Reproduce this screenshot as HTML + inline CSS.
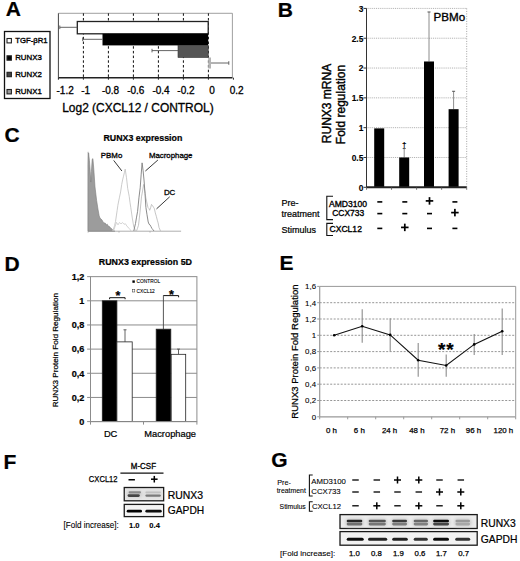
<!DOCTYPE html>
<html><head><meta charset="utf-8"><style>
html,body{margin:0;padding:0;background:#fff;width:520px;height:561px;overflow:hidden}
svg{display:block;font-family:"Liberation Sans", sans-serif}
text{stroke:#000;stroke-width:0.22px}
.nb{stroke:none}
</style></head><body>
<svg width="520" height="561" viewBox="0 0 520 561">
<defs><filter id="b1" x="-20%" y="-100%" width="140%" height="300%"><feGaussianBlur stdDeviation="0.7"/></filter><filter id="b2" x="-20%" y="-100%" width="140%" height="300%"><feGaussianBlur stdDeviation="0.45"/></filter><filter id="b3" x="-20%" y="-100%" width="140%" height="300%"><feGaussianBlur stdDeviation="1.5"/></filter></defs>
<rect width="520" height="561" fill="#fff"/>
<text x="5.8" y="16.4" font-size="21" font-weight="bold" text-anchor="start" fill="#000" >A</text>
<text x="277.8" y="17.2" font-size="21" font-weight="bold" text-anchor="start" fill="#000" >B</text>
<text x="4.4" y="142.4" font-size="21" font-weight="bold" text-anchor="start" fill="#000" >C</text>
<text x="4.4" y="270.7" font-size="21" font-weight="bold" text-anchor="start" fill="#000" >D</text>
<text x="279.4" y="269.7" font-size="21" font-weight="bold" text-anchor="start" fill="#000" >E</text>
<text x="3.4" y="468.9" font-size="21" font-weight="bold" text-anchor="start" fill="#000" >F</text>
<text x="271.2" y="466.6" font-size="21" font-weight="bold" text-anchor="start" fill="#000" >G</text>
<line x1="58.4" y1="13.3" x2="232.4" y2="13.3" stroke="#888" stroke-width="0.8" />
<line x1="232.4" y1="13.3" x2="232.4" y2="77.7" stroke="#888" stroke-width="0.8" />
<line x1="58.4" y1="13.3" x2="58.4" y2="77.7" stroke="#444" stroke-width="1" />
<line x1="83.39999999999999" y1="13.3" x2="83.39999999999999" y2="77.7" stroke="#111" stroke-width="1" stroke-dasharray="2.5 2.2"/>
<line x1="108.39999999999998" y1="13.3" x2="108.39999999999998" y2="77.7" stroke="#111" stroke-width="1" stroke-dasharray="2.5 2.2"/>
<line x1="133.4" y1="13.3" x2="133.4" y2="77.7" stroke="#111" stroke-width="1" stroke-dasharray="2.5 2.2"/>
<line x1="158.39999999999998" y1="13.3" x2="158.39999999999998" y2="77.7" stroke="#111" stroke-width="1" stroke-dasharray="2.5 2.2"/>
<line x1="183.4" y1="13.3" x2="183.4" y2="77.7" stroke="#111" stroke-width="1" stroke-dasharray="2.5 2.2"/>
<line x1="208.4" y1="13.3" x2="208.4" y2="77.7" stroke="#111" stroke-width="1" stroke-dasharray="2.5 2.2"/>
<rect x="77.3" y="21.5" width="130.89999999999998" height="12.3" fill="#fff" stroke="#222" stroke-width="1.3" />
<rect x="102.5" y="33.8" width="105.69999999999999" height="11.6" fill="#000" stroke="none" stroke-width="0" />
<rect x="178" y="45.4" width="30.19999999999999" height="12.1" fill="#555" stroke="#333" stroke-width="0.6" />
<rect x="208.2" y="57.5" width="2.8" height="11" fill="#b4b4b4" stroke="none" stroke-width="0" />
<line x1="59.8" y1="27.3" x2="77.3" y2="27.3" stroke="#555" stroke-width="0.9" />
<line x1="82.7" y1="39.3" x2="102.5" y2="39.3" stroke="#555" stroke-width="0.9" />
<line x1="152" y1="50.6" x2="178" y2="50.6" stroke="#555" stroke-width="0.9" />
<line x1="211" y1="63" x2="228.8" y2="63" stroke="#555" stroke-width="0.9" />
<line x1="59.8" y1="25.5" x2="59.8" y2="29.1" stroke="#555" stroke-width="0.9" />
<line x1="82.7" y1="37.5" x2="82.7" y2="41.099999999999994" stroke="#555" stroke-width="0.9" />
<line x1="152" y1="48.800000000000004" x2="152" y2="52.4" stroke="#555" stroke-width="0.9" />
<line x1="228.8" y1="61.2" x2="228.8" y2="64.8" stroke="#555" stroke-width="0.9" />
<line x1="58.4" y1="77.7" x2="232.4" y2="77.7" stroke="#222" stroke-width="1.4" />
<line x1="58.4" y1="77.7" x2="58.4" y2="79.7" stroke="#222" stroke-width="1" />
<line x1="83.4" y1="77.7" x2="83.4" y2="79.7" stroke="#222" stroke-width="1" />
<line x1="108.4" y1="77.7" x2="108.4" y2="79.7" stroke="#222" stroke-width="1" />
<line x1="133.4" y1="77.7" x2="133.4" y2="79.7" stroke="#222" stroke-width="1" />
<line x1="158.4" y1="77.7" x2="158.4" y2="79.7" stroke="#222" stroke-width="1" />
<line x1="183.4" y1="77.7" x2="183.4" y2="79.7" stroke="#222" stroke-width="1" />
<line x1="208.4" y1="77.7" x2="208.4" y2="79.7" stroke="#222" stroke-width="1" />
<line x1="233.4" y1="77.7" x2="233.4" y2="79.7" stroke="#222" stroke-width="1" />
<text x="56.5" y="93.6" font-size="10" text-anchor="start" fill="#000" style="stroke-width:0.3px">-1.2</text>
<text x="81.2" y="93.6" font-size="10" text-anchor="start" fill="#000" style="stroke-width:0.3px">-1</text>
<text x="101.9" y="93.6" font-size="10" text-anchor="start" fill="#000" style="stroke-width:0.3px">-0.8</text>
<text x="127.2" y="93.6" font-size="10" text-anchor="start" fill="#000" style="stroke-width:0.3px">-0.6</text>
<text x="152.4" y="93.6" font-size="10" text-anchor="start" fill="#000" style="stroke-width:0.3px">-0.4</text>
<text x="177.3" y="93.6" font-size="10" text-anchor="start" fill="#000" style="stroke-width:0.3px">-0.2</text>
<text x="209.2" y="93.6" font-size="10" text-anchor="start" fill="#000" style="stroke-width:0.3px">0</text>
<text x="229.7" y="93.6" font-size="10" text-anchor="start" fill="#000" style="stroke-width:0.3px">0.2</text>
<text x="62.2" y="111.9" font-size="12" text-anchor="start" fill="#000" style="stroke-width:0.3px" textLength="151.5" lengthAdjust="spacingAndGlyphs">Log2 (CXCL12 / CONTROL)</text>
<rect x="4.5" y="31.5" width="45.5" height="67" fill="none" stroke="#111" stroke-width="1.3" />
<rect x="7.0" y="38.5" width="4.4" height="4.4" fill="#fff" stroke="#222" stroke-width="1.1" />
<text x="15.2" y="42.7" font-size="8" text-anchor="start" fill="#000" style="stroke-width:0.35px" textLength="32.4" lengthAdjust="spacingAndGlyphs">TGF-βR1</text>
<rect x="7.0" y="55.8" width="4.4" height="4.4" fill="#000" stroke="#222" stroke-width="1.1" />
<text x="15.2" y="60" font-size="8" text-anchor="start" fill="#000" style="stroke-width:0.35px" textLength="26.6" lengthAdjust="spacingAndGlyphs">RUNX3</text>
<rect x="7.0" y="72.3" width="4.4" height="4.4" fill="#444" stroke="#222" stroke-width="1.1" />
<text x="15.2" y="76.5" font-size="8" text-anchor="start" fill="#000" style="stroke-width:0.35px" textLength="26.6" lengthAdjust="spacingAndGlyphs">RUNX2</text>
<rect x="7.0" y="89.5" width="4.4" height="4.4" fill="#999" stroke="#222" stroke-width="1.1" />
<text x="15.2" y="93.7" font-size="8" text-anchor="start" fill="#000" style="stroke-width:0.35px" textLength="26.6" lengthAdjust="spacingAndGlyphs">RUNX1</text>
<line x1="366.5" y1="157.485" x2="466.7" y2="157.485" stroke="#a8a8a8" stroke-width="0.9" stroke-dasharray="1 0.9"/>
<line x1="366.5" y1="127.67000000000002" x2="466.7" y2="127.67000000000002" stroke="#a8a8a8" stroke-width="0.9" stroke-dasharray="1 0.9"/>
<line x1="366.5" y1="97.855" x2="466.7" y2="97.855" stroke="#a8a8a8" stroke-width="0.9" stroke-dasharray="1 0.9"/>
<line x1="366.5" y1="68.04" x2="466.7" y2="68.04" stroke="#a8a8a8" stroke-width="0.9" stroke-dasharray="1 0.9"/>
<line x1="366.5" y1="38.224999999999994" x2="466.7" y2="38.224999999999994" stroke="#a8a8a8" stroke-width="0.9" stroke-dasharray="1 0.9"/>
<line x1="366.5" y1="8.409999999999997" x2="466.7" y2="8.409999999999997" stroke="#a8a8a8" stroke-width="0.9" stroke-dasharray="1 0.9"/>
<line x1="466.7" y1="8.409999999999997" x2="466.7" y2="187.3" stroke="#999" stroke-width="0.9" stroke-dasharray="1 1.5"/>
<line x1="366.5" y1="8.409999999999997" x2="366.5" y2="187.3" stroke="#333" stroke-width="1" />
<line x1="363.5" y1="187.3" x2="366.5" y2="187.3" stroke="#333" stroke-width="1" />
<text x="363.3" y="190.70000000000002" font-size="8.4" font-weight="bold" text-anchor="end" fill="#000"  style="stroke-width:0.1px">0</text>
<line x1="363.5" y1="157.485" x2="366.5" y2="157.485" stroke="#333" stroke-width="1" />
<text x="363.3" y="160.88500000000002" font-size="8.4" font-weight="bold" text-anchor="end" fill="#000"  style="stroke-width:0.1px">0.5</text>
<line x1="363.5" y1="127.67000000000002" x2="366.5" y2="127.67000000000002" stroke="#333" stroke-width="1" />
<text x="363.3" y="131.07000000000002" font-size="8.4" font-weight="bold" text-anchor="end" fill="#000"  style="stroke-width:0.1px">1</text>
<line x1="363.5" y1="97.855" x2="366.5" y2="97.855" stroke="#333" stroke-width="1" />
<text x="363.3" y="101.25500000000001" font-size="8.4" font-weight="bold" text-anchor="end" fill="#000"  style="stroke-width:0.1px">1.5</text>
<line x1="363.5" y1="68.04" x2="366.5" y2="68.04" stroke="#333" stroke-width="1" />
<text x="363.3" y="71.44000000000001" font-size="8.4" font-weight="bold" text-anchor="end" fill="#000"  style="stroke-width:0.1px">2</text>
<line x1="363.5" y1="38.224999999999994" x2="366.5" y2="38.224999999999994" stroke="#333" stroke-width="1" />
<text x="363.3" y="41.62499999999999" font-size="8.4" font-weight="bold" text-anchor="end" fill="#000"  style="stroke-width:0.1px">2.5</text>
<line x1="363.5" y1="8.409999999999997" x2="366.5" y2="8.409999999999997" stroke="#333" stroke-width="1" />
<text x="363.3" y="11.809999999999997" font-size="8.4" font-weight="bold" text-anchor="end" fill="#000"  style="stroke-width:0.1px">3</text>
<rect x="374.2" y="128.38556" width="10" height="58.91444" fill="#000" stroke="none" stroke-width="0" />
<line x1="404.2" y1="148.5405" x2="404.2" y2="157.485" stroke="#707070" stroke-width="0.8" />
<line x1="402.7" y1="148.5405" x2="405.7" y2="148.5405" stroke="#555" stroke-width="1" />
<rect x="399.2" y="157.485" width="10" height="29.815" fill="#000" stroke="none" stroke-width="0" />
<line x1="429" y1="11.987799999999993" x2="429" y2="61.48070000000001" stroke="#707070" stroke-width="0.8" />
<line x1="427.5" y1="11.987799999999993" x2="430.5" y2="11.987799999999993" stroke="#555" stroke-width="1" />
<rect x="424" y="61.48070000000001" width="10" height="125.8193" fill="#000" stroke="none" stroke-width="0" />
<line x1="453.6" y1="91.2957" x2="453.6" y2="109.1847" stroke="#707070" stroke-width="0.8" />
<line x1="452.1" y1="91.2957" x2="455.1" y2="91.2957" stroke="#555" stroke-width="1" />
<rect x="448.6" y="109.1847" width="10" height="78.1153" fill="#000" stroke="none" stroke-width="0" />
<line x1="366.5" y1="187.3" x2="466.7" y2="187.3" stroke="#222" stroke-width="2" />
<line x1="366.5" y1="187.3" x2="366.5" y2="189.8" stroke="#555" stroke-width="0.8" />
<line x1="391.55" y1="187.3" x2="391.55" y2="189.8" stroke="#555" stroke-width="0.8" />
<line x1="416.6" y1="187.3" x2="416.6" y2="189.8" stroke="#555" stroke-width="0.8" />
<line x1="441.65" y1="187.3" x2="441.65" y2="189.8" stroke="#555" stroke-width="0.8" />
<line x1="466.7" y1="187.3" x2="466.7" y2="189.8" stroke="#555" stroke-width="0.8" />
<text x="404.2" y="147" font-size="8" font-weight="bold" text-anchor="middle" fill="#000"  style="stroke-width:0.1px">†</text>
<text x="433.6" y="21.0" font-size="11.4" text-anchor="start" fill="#000" style="stroke-width:0.35px" textLength="31.6" lengthAdjust="spacingAndGlyphs">PBMo</text>
<text transform="translate(331,103.5) rotate(-90)" font-size="12" text-anchor="middle" style="stroke-width:0.4px">RUNX3 mRNA</text>
<text transform="translate(344.5,104.5) rotate(-90)" font-size="12" text-anchor="middle" style="stroke-width:0.4px">Fold regulation</text>
<text x="281.5" y="206.0" font-size="9" text-anchor="start" fill="#000" >Pre-</text>
<text x="281.5" y="217.2" font-size="9" text-anchor="start" fill="#000" >treatment</text>
<text x="281.5" y="233" font-size="9" text-anchor="start" fill="#000" >Stimulus</text>
<path d="M333 196.2 H326.8 V219.6 H333" fill="none" stroke="#111" stroke-width="1.1" />
<path d="M333 223.4 H326.8 V235.5 H333" fill="none" stroke="#111" stroke-width="1.1" />
<text x="329.0" y="206.8" font-size="8.6" text-anchor="start" fill="#000" style="stroke-width:0.35px" textLength="38.1" lengthAdjust="spacingAndGlyphs">AMD3100</text>
<text x="332.2" y="215.9" font-size="8.6" text-anchor="start" fill="#000" style="stroke-width:0.35px" textLength="31.9" lengthAdjust="spacingAndGlyphs">CCX733</text>
<text x="329.5" y="231.9" font-size="8.6" text-anchor="start" fill="#000" style="stroke-width:0.35px" textLength="32.4" lengthAdjust="spacingAndGlyphs">CXCL12</text>
<rect x="377.3" y="201.1" width="5" height="1.6" fill="#000" stroke="none" stroke-width="0" />
<rect x="402.3" y="201.1" width="5" height="1.6" fill="#000" stroke="none" stroke-width="0" />
<rect x="425.75" y="200.05" width="7.5" height="1.7" fill="#000" stroke="none" stroke-width="0" />
<rect x="428.65" y="197.15" width="1.7" height="7.5" fill="#000" stroke="none" stroke-width="0" />
<rect x="452.4" y="201.1" width="5" height="1.6" fill="#000" stroke="none" stroke-width="0" />
<rect x="377.3" y="212.79999999999998" width="5" height="1.6" fill="#000" stroke="none" stroke-width="0" />
<rect x="402.3" y="212.79999999999998" width="5" height="1.6" fill="#000" stroke="none" stroke-width="0" />
<rect x="427.0" y="212.79999999999998" width="5" height="1.6" fill="#000" stroke="none" stroke-width="0" />
<rect x="451.15" y="211.75" width="7.5" height="1.7" fill="#000" stroke="none" stroke-width="0" />
<rect x="454.04999999999995" y="208.85" width="1.7" height="7.5" fill="#000" stroke="none" stroke-width="0" />
<rect x="377.3" y="227.6" width="5" height="1.6" fill="#000" stroke="none" stroke-width="0" />
<rect x="401.05" y="226.55" width="7.5" height="1.7" fill="#000" stroke="none" stroke-width="0" />
<rect x="403.95" y="223.65" width="1.7" height="7.5" fill="#000" stroke="none" stroke-width="0" />
<rect x="427.0" y="227.6" width="5" height="1.6" fill="#000" stroke="none" stroke-width="0" />
<rect x="452.4" y="227.6" width="5" height="1.6" fill="#000" stroke="none" stroke-width="0" />
<text x="103.4" y="141.4" font-size="9" font-weight="bold" text-anchor="start" fill="#000"  textLength="78.9" lengthAdjust="spacingAndGlyphs">RUNX3 expression</text>
<line x1="88.1" y1="151.8" x2="88.1" y2="231.2" stroke="#999" stroke-width="0.8" />
<line x1="88.1" y1="231.2" x2="181.1" y2="231.2" stroke="#999" stroke-width="0.8" />
<line x1="88.1" y1="231.2" x2="88.1" y2="232.7" stroke="#999" stroke-width="0.6" />
<line x1="119" y1="231.2" x2="119" y2="232.7" stroke="#999" stroke-width="0.6" />
<line x1="150" y1="231.2" x2="150" y2="232.7" stroke="#999" stroke-width="0.6" />
<path d="M88.1,231.2 L88.2,164.72 L88.6,152.94 L89.4,160.24 L90.2,171.32 L90.8,182.06 L91.4,171.79 L92.2,159.29 L92.9,158.61 L93.8,169.26 L95.0,186.89 L96.6,200.31 L98.0,209.35 L99.2,215.88 L100.1,218.27 L101.0,218.9 L102.0,220.06 L103.0,221.7 L103.83,222.88 L104.67,222.96 L105.5,223.33 L106.33,224.93 L107.17,224.11 L108.0,226.04 L109.0,226.24 L110.0,227.15 L111.0,228.22 L111.92,229.07 L112.85,229.96 L113.78,230.47 L114.7,231.2 Z" fill="#9c9c9c" stroke="#7c7c7c" stroke-width="0.6" />
<path d="M112.5,231 L113.8,228.12 L114.65,225.39 L115.5,221.64 L117.1,210.73 L117.9,205.18 L118.7,200.97 L119.5,197.18 L120.6,191.91 L121.7,184.6 L122.6,179.88 L123.5,176.24 L124.35,172.72 L125.2,169.14 L126.5,177.82 L127.7,188.46 L129.2,196.28 L130.0,202.51 L130.8,207.67 L132.3,218.05 L133.8,227.0 L134.65,228.51 L135.5,231.0" fill="none" stroke="#c2c2c2" stroke-width="0.85" />
<path d="M113.5,231 L115.0,226.67 L116.5,222.39 L118.0,224.87 L119.5,222.41 L121.0,223.94 L122.5,222.48 L124.0,224.26 L125.5,223.77 L127.0,226.37 L128.0,227.08 L129.0,228.32 L130.0,229.42 L131.0,231.0" fill="none" stroke="#cacaca" stroke-width="0.8" />
<path d="M136.5,231 L137.5,228.27 L138.5,225.25 L140.0,212.21 L141.5,196.89 L142.55,191.03 L143.6,184.46 L145.0,191.93 L145.85,197.93 L146.7,201.86 L148.0,207.52 L148.85,208.38 L149.7,210.28 L150.6,207.84 L151.5,204.44 L152.5,205.6 L153.5,207.24 L154.4,208.66 L155.3,212.9 L156.3,216.24 L157.3,220.2 L158.15,222.95 L159.0,227.49 L160.5,231.0" fill="none" stroke="#bababa" stroke-width="0.85" />
<path d="M133.8,231 L134.65,227.04 L135.5,223.5 L136.55,217.08 L137.6,211.34 L139.0,197.16 L140.2,187.8 L141.2,174.1 L142.1,162.87 L143.1,170.64 L144.1,181.03 L145.0,193.56 L145.9,207.43 L147.0,214.72 L148.2,221.97 L149.1,224.27 L150.0,224.84 L151.0,226.71 L152.0,228.59 L153.0,229.78 L154.0,231.0" fill="none" stroke="#858585" stroke-width="0.95" />
<text x="100.8" y="157.7" font-size="7.9" text-anchor="start" fill="#000" style="stroke-width:0.3px" textLength="21.5" lengthAdjust="spacingAndGlyphs">PBMo</text>
<text x="148.9" y="157.7" font-size="7.9" text-anchor="start" fill="#000" style="stroke-width:0.3px" textLength="43.6" lengthAdjust="spacingAndGlyphs">Macrophage</text>
<text x="163.9" y="194.9" font-size="7.9" text-anchor="start" fill="#000" style="stroke-width:0.3px" textLength="11.4" lengthAdjust="spacingAndGlyphs">DC</text>
<line x1="113.7" y1="160.4" x2="121.9" y2="171" stroke="#222" stroke-width="0.9" />
<line x1="157.9" y1="160" x2="145.4" y2="171" stroke="#222" stroke-width="0.9" />
<line x1="169.7" y1="196.8" x2="156.5" y2="208.9" stroke="#222" stroke-width="0.9" />
<text x="98.8" y="264.8" font-size="9.1" font-weight="bold" text-anchor="start" fill="#000"  textLength="93.2" lengthAdjust="spacingAndGlyphs">RUNX3 expression 5D</text>
<line x1="90.5" y1="397.44" x2="196.9" y2="397.44" stroke="#8c8c8c" stroke-width="1" />
<line x1="90.5" y1="373.28000000000003" x2="196.9" y2="373.28000000000003" stroke="#8c8c8c" stroke-width="1" />
<line x1="90.5" y1="349.12" x2="196.9" y2="349.12" stroke="#8c8c8c" stroke-width="1" />
<line x1="90.5" y1="324.96000000000004" x2="196.9" y2="324.96000000000004" stroke="#8c8c8c" stroke-width="1" />
<line x1="90.5" y1="300.8" x2="196.9" y2="300.8" stroke="#8c8c8c" stroke-width="1" />
<rect x="90.5" y="276.64000000000004" width="106.4" height="144.95999999999998" fill="none" stroke="#8c8c8c" stroke-width="1" />
<text x="84.3" y="424.90000000000003" font-size="9.1" font-weight="bold" text-anchor="end" fill="#000" >0</text>
<line x1="87.1" y1="421.6" x2="90.5" y2="421.6" stroke="#8c8c8c" stroke-width="1" />
<text x="84.3" y="400.74" font-size="9.1" font-weight="bold" text-anchor="end" fill="#000" >0,2</text>
<line x1="87.1" y1="397.44" x2="90.5" y2="397.44" stroke="#8c8c8c" stroke-width="1" />
<text x="84.3" y="376.58000000000004" font-size="9.1" font-weight="bold" text-anchor="end" fill="#000" >0,4</text>
<line x1="87.1" y1="373.28000000000003" x2="90.5" y2="373.28000000000003" stroke="#8c8c8c" stroke-width="1" />
<text x="84.3" y="352.42" font-size="9.1" font-weight="bold" text-anchor="end" fill="#000" >0,6</text>
<line x1="87.1" y1="349.12" x2="90.5" y2="349.12" stroke="#8c8c8c" stroke-width="1" />
<text x="84.3" y="328.26000000000005" font-size="9.1" font-weight="bold" text-anchor="end" fill="#000" >0,8</text>
<line x1="87.1" y1="324.96000000000004" x2="90.5" y2="324.96000000000004" stroke="#8c8c8c" stroke-width="1" />
<text x="84.3" y="304.1" font-size="9.1" font-weight="bold" text-anchor="end" fill="#000" >1</text>
<line x1="87.1" y1="300.8" x2="90.5" y2="300.8" stroke="#8c8c8c" stroke-width="1" />
<text x="84.3" y="279.94000000000005" font-size="9.1" font-weight="bold" text-anchor="end" fill="#000" >1,2</text>
<line x1="87.1" y1="276.64000000000004" x2="90.5" y2="276.64000000000004" stroke="#8c8c8c" stroke-width="1" />
<line x1="125" y1="329.79200000000003" x2="125" y2="341.872" stroke="#555" stroke-width="0.9" />
<line x1="123.5" y1="329.79200000000003" x2="126.5" y2="329.79200000000003" stroke="#555" stroke-width="0.9" />
<line x1="178.5" y1="349.12" x2="178.5" y2="354.31440000000003" stroke="#555" stroke-width="0.9" />
<line x1="177" y1="349.12" x2="180" y2="349.12" stroke="#555" stroke-width="0.9" />
<line x1="163.4" y1="296.2" x2="163.4" y2="329.188" stroke="#444" stroke-width="0.9" />
<rect x="102.3" y="300.8" width="14.600000000000009" height="120.80000000000001" fill="#000" stroke="#222" stroke-width="0.8" />
<rect x="116.9" y="341.872" width="15.299999999999983" height="79.72800000000001" fill="#fff" stroke="#222" stroke-width="0.8" />
<rect x="156.2" y="329.188" width="14.600000000000023" height="92.41200000000003" fill="#000" stroke="#222" stroke-width="0.8" />
<rect x="171.2" y="354.31440000000003" width="14.5" height="67.28559999999999" fill="#fff" stroke="#222" stroke-width="0.8" />
<line x1="90.5" y1="421.6" x2="196.9" y2="421.6" stroke="#8c8c8c" stroke-width="1" />
<line x1="90.5" y1="421.6" x2="90.5" y2="424.6" stroke="#8c8c8c" stroke-width="1" />
<line x1="143.5" y1="421.6" x2="143.5" y2="424.6" stroke="#8c8c8c" stroke-width="1" />
<line x1="196.9" y1="421.6" x2="196.9" y2="424.6" stroke="#8c8c8c" stroke-width="1" />
<path d="M109.6 299.2 V297.7 H125.1 V299.2" fill="none" stroke="#111" stroke-width="1" />
<text x="118" y="300.1" font-size="12.5" font-weight="bold" text-anchor="middle" fill="#000" >*</text>
<path d="M163.4 296.2 V295.6 H178.6 V297.3" fill="none" stroke="#111" stroke-width="1" />
<text x="171.5" y="298.6" font-size="12.5" font-weight="bold" text-anchor="middle" fill="#000" >*</text>
<rect x="132.4" y="280.4" width="2.4" height="2.4" fill="#000" stroke="none" stroke-width="0" />
<rect x="132.4" y="289.6" width="2.4" height="2.4" fill="#fff" stroke="#333" stroke-width="0.5" />
<text x="136.6" y="283.3" font-size="4.8" text-anchor="start" fill="#000"  style="stroke-width:0.1px">CONTROL</text>
<text x="136.6" y="292.5" font-size="4.8" text-anchor="start" fill="#000"  style="stroke-width:0.1px">CXCL12</text>
<text x="103.9" y="437.4" font-size="9.3" text-anchor="start" fill="#000" >DC</text>
<text x="144.3" y="437.4" font-size="9.3" text-anchor="start" fill="#000" >Macrophage</text>
<text transform="translate(58.4,350.2) rotate(-90)" font-size="8.1" text-anchor="middle">RUNX3 Protein Fold Regulation</text>
<line x1="319.7" y1="400.5" x2="515.7" y2="400.5" stroke="#8a8a8a" stroke-width="0.9" stroke-dasharray="2 1.5"/>
<line x1="319.7" y1="384.2" x2="515.7" y2="384.2" stroke="#8a8a8a" stroke-width="0.9" stroke-dasharray="2 1.5"/>
<line x1="319.7" y1="367.90000000000003" x2="515.7" y2="367.90000000000003" stroke="#8a8a8a" stroke-width="0.9" stroke-dasharray="2 1.5"/>
<line x1="319.7" y1="351.6" x2="515.7" y2="351.6" stroke="#8a8a8a" stroke-width="0.9" stroke-dasharray="2 1.5"/>
<line x1="319.7" y1="335.3" x2="515.7" y2="335.3" stroke="#8a8a8a" stroke-width="0.9" stroke-dasharray="2 1.5"/>
<line x1="319.7" y1="319.0" x2="515.7" y2="319.0" stroke="#8a8a8a" stroke-width="0.9" stroke-dasharray="2 1.5"/>
<line x1="319.7" y1="302.70000000000005" x2="515.7" y2="302.70000000000005" stroke="#8a8a8a" stroke-width="0.9" stroke-dasharray="2 1.5"/>
<line x1="319.7" y1="286.4" x2="515.7" y2="286.4" stroke="#999" stroke-width="1" />
<line x1="515.7" y1="286.4" x2="515.7" y2="416.8" stroke="#999" stroke-width="1" />
<line x1="319.7" y1="286.4" x2="319.7" y2="416.8" stroke="#999" stroke-width="1.2" />
<line x1="319.7" y1="416.8" x2="515.7" y2="416.8" stroke="#999" stroke-width="1.2" />
<line x1="317.2" y1="416.8" x2="319.7" y2="416.8" stroke="#999" stroke-width="1" />
<text x="316.1" y="419.6" font-size="7.9" text-anchor="end" fill="#000"  style="stroke-width:0.1px">0</text>
<line x1="317.2" y1="400.5" x2="319.7" y2="400.5" stroke="#999" stroke-width="1" />
<text x="316.1" y="403.3" font-size="7.9" text-anchor="end" fill="#000"  style="stroke-width:0.1px">0,2</text>
<line x1="317.2" y1="384.2" x2="319.7" y2="384.2" stroke="#999" stroke-width="1" />
<text x="316.1" y="387.0" font-size="7.9" text-anchor="end" fill="#000"  style="stroke-width:0.1px">0,4</text>
<line x1="317.2" y1="367.90000000000003" x2="319.7" y2="367.90000000000003" stroke="#999" stroke-width="1" />
<text x="316.1" y="370.70000000000005" font-size="7.9" text-anchor="end" fill="#000"  style="stroke-width:0.1px">0,6</text>
<line x1="317.2" y1="351.6" x2="319.7" y2="351.6" stroke="#999" stroke-width="1" />
<text x="316.1" y="354.40000000000003" font-size="7.9" text-anchor="end" fill="#000"  style="stroke-width:0.1px">0,8</text>
<line x1="317.2" y1="335.3" x2="319.7" y2="335.3" stroke="#999" stroke-width="1" />
<text x="316.1" y="338.1" font-size="7.9" text-anchor="end" fill="#000"  style="stroke-width:0.1px">1</text>
<line x1="317.2" y1="319.0" x2="319.7" y2="319.0" stroke="#999" stroke-width="1" />
<text x="316.1" y="321.8" font-size="7.9" text-anchor="end" fill="#000"  style="stroke-width:0.1px">1,2</text>
<line x1="317.2" y1="302.70000000000005" x2="319.7" y2="302.70000000000005" stroke="#999" stroke-width="1" />
<text x="316.1" y="305.50000000000006" font-size="7.9" text-anchor="end" fill="#000"  style="stroke-width:0.1px">1,4</text>
<line x1="317.2" y1="286.4" x2="319.7" y2="286.4" stroke="#999" stroke-width="1" />
<text x="316.1" y="289.2" font-size="7.9" text-anchor="end" fill="#000"  style="stroke-width:0.1px">1,6</text>
<line x1="319.7" y1="416.8" x2="319.7" y2="419.3" stroke="#999" stroke-width="1" />
<line x1="347.7" y1="416.8" x2="347.7" y2="419.3" stroke="#999" stroke-width="1" />
<line x1="375.7" y1="416.8" x2="375.7" y2="419.3" stroke="#999" stroke-width="1" />
<line x1="403.7" y1="416.8" x2="403.7" y2="419.3" stroke="#999" stroke-width="1" />
<line x1="431.7" y1="416.8" x2="431.7" y2="419.3" stroke="#999" stroke-width="1" />
<line x1="459.7" y1="416.8" x2="459.7" y2="419.3" stroke="#999" stroke-width="1" />
<line x1="487.7" y1="416.8" x2="487.7" y2="419.3" stroke="#999" stroke-width="1" />
<line x1="515.7" y1="416.8" x2="515.7" y2="419.3" stroke="#999" stroke-width="1" />
<line x1="362.2" y1="309.22" x2="362.2" y2="342.635" stroke="#8c8c8c" stroke-width="1.1" />
<line x1="390.2" y1="318.185" x2="390.2" y2="351.6" stroke="#8c8c8c" stroke-width="1.1" />
<line x1="418.2" y1="343.0425" x2="418.2" y2="376.865" stroke="#8c8c8c" stroke-width="1.1" />
<line x1="446.2" y1="354.4525" x2="446.2" y2="376.865" stroke="#8c8c8c" stroke-width="1.1" />
<line x1="474.2" y1="333.996" x2="474.2" y2="355.10450000000003" stroke="#8c8c8c" stroke-width="1.1" />
<line x1="502.2" y1="308.405" x2="502.2" y2="355.10450000000003" stroke="#8c8c8c" stroke-width="1.1" />
<path d="M334.2,335.3 L362.2,326.3 L390.2,334.9 L418.2,360.3 L446.2,365.5 L474.2,344.4 L502.2,331.2" fill="none" stroke="#111" stroke-width="1.15" />
<circle cx="334.2" cy="335.3" r="1.3" fill="#000"/>
<circle cx="362.2" cy="326.3" r="1.3" fill="#000"/>
<circle cx="390.2" cy="334.9" r="1.3" fill="#000"/>
<circle cx="418.2" cy="360.3" r="1.3" fill="#000"/>
<circle cx="446.2" cy="365.5" r="1.3" fill="#000"/>
<circle cx="474.2" cy="344.4" r="1.3" fill="#000"/>
<circle cx="502.2" cy="331.2" r="1.3" fill="#000"/>
<text x="441.7" y="355.5" font-size="19" font-weight="bold" text-anchor="middle" fill="#000" >*</text>
<text x="450.0" y="355.5" font-size="19" font-weight="bold" text-anchor="middle" fill="#000" >*</text>
<text x="326" y="432.8" font-size="7.9" text-anchor="start" fill="#000" style="stroke-width:0.25px">0 h</text>
<text x="353.8" y="432.8" font-size="7.9" text-anchor="start" fill="#000" style="stroke-width:0.25px">6 h</text>
<text x="381.9" y="432.8" font-size="7.9" text-anchor="start" fill="#000" style="stroke-width:0.25px">24 h</text>
<text x="409.2" y="432.8" font-size="7.9" text-anchor="start" fill="#000" style="stroke-width:0.25px">48 h</text>
<text x="439.7" y="432.8" font-size="7.9" text-anchor="start" fill="#000" style="stroke-width:0.25px">72 h</text>
<text x="465.8" y="432.8" font-size="7.9" text-anchor="start" fill="#000" style="stroke-width:0.25px">96 h</text>
<text x="493.5" y="432.8" font-size="7.9" text-anchor="start" fill="#000" style="stroke-width:0.25px">120 h</text>
<text transform="translate(298.3,351.6) rotate(-90)" font-size="9.5" text-anchor="middle" style="stroke-width:0.25px">RUNX3 Protein Fold Regulation</text>
<text x="130.8" y="469.4" font-size="8.4" text-anchor="start" fill="#000" style="stroke-width:0.3px" textLength="25.2" lengthAdjust="spacingAndGlyphs">M-CSF</text>
<line x1="120.4" y1="473.2" x2="163.5" y2="473.2" stroke="#111" stroke-width="1.2" />
<text x="88.8" y="482.2" font-size="8.3" text-anchor="start" fill="#000" style="stroke-width:0.25px" textLength="28.8" lengthAdjust="spacingAndGlyphs">CXCL12</text>
<rect x="128.5" y="479" width="6.4" height="1.5" fill="#000" stroke="none" stroke-width="0" />
<rect x="151.0" y="478.45" width="6.6" height="1.5" fill="#000" stroke="none" stroke-width="0" />
<rect x="153.55" y="475.9" width="1.5" height="6.6" fill="#000" stroke="none" stroke-width="0" />
<rect x="124.25" y="487.5" width="39.4" height="13.3" fill="#e6e6e6" stroke="#1a1a1a" stroke-width="1.3" />
<rect x="126.5" y="490.5" width="16.0" height="7" rx="3.5" fill="#d0d0d0" filter="url(#b3)"/>
<rect x="144" y="490.5" width="18" height="7" rx="3.5" fill="#dadada" filter="url(#b3)"/>
<rect x="128.6" y="491.2" width="12.400000000000006" height="2.2" rx="1.1" fill="#8a8a8a" filter="url(#b1)"/>
<rect x="127.6" y="494.3" width="12.200000000000017" height="2.6" rx="1.3" fill="#444" filter="url(#b1)"/>
<rect x="145.4" y="491.40000000000003" width="15.400000000000006" height="1.8" rx="0.9" fill="#c0c0c0" filter="url(#b1)"/>
<rect x="145.4" y="494.40000000000003" width="15.400000000000006" height="2.4" rx="1.2" fill="#7a7a7a" filter="url(#b1)"/>
<rect x="124.25" y="504.4" width="39.4" height="12.2" fill="#f4f4f4" stroke="#1a1a1a" stroke-width="1.3" />
<rect x="126.7" y="509.84999999999997" width="15.299999999999997" height="2.7" rx="1.35" fill="#000" filter="url(#b2)"/>
<rect x="145.4" y="509.84999999999997" width="16.299999999999983" height="2.7" rx="1.35" fill="#080808" filter="url(#b2)"/>
<text x="167.8" y="498.6" font-size="10" text-anchor="start" fill="#000"  textLength="35.3" lengthAdjust="spacingAndGlyphs">RUNX3</text>
<text x="167.8" y="513.8" font-size="10.3" text-anchor="start" fill="#000"  textLength="36.4" lengthAdjust="spacingAndGlyphs">GAPDH</text>
<text x="63.5" y="528.4" font-size="8.3" text-anchor="start" fill="#000"  textLength="55.2" lengthAdjust="spacingAndGlyphs" style="stroke-width:0.1px">[Fold increase]:</text>
<text x="129.0" y="528.3" font-size="7.6" font-weight="bold" text-anchor="start" fill="#000"  style="stroke-width:0.1px">1.0</text>
<text x="149.3" y="528.3" font-size="7.6" font-weight="bold" text-anchor="start" fill="#000"  style="stroke-width:0.1px">0.4</text>
<text x="277.3" y="485" font-size="7.2" text-anchor="start" fill="#000"  style="stroke-width:0.1px">Pre-</text>
<text x="276.7" y="492.7" font-size="6.9" text-anchor="start" fill="#000"  style="stroke-width:0.1px">treatment</text>
<text x="279.6" y="508.5" font-size="6.8" text-anchor="start" fill="#000"  style="stroke-width:0.1px">Stimulus</text>
<path d="M312.7 475 H309.4 V496 H312.7" fill="none" stroke="#111" stroke-width="1.1" />
<path d="M312.7 501.7 H309.4 V511.3 H312.7" fill="none" stroke="#111" stroke-width="1.1" />
<text x="311.3" y="483.5" font-size="8.1" text-anchor="start" fill="#000"  textLength="34.6" lengthAdjust="spacingAndGlyphs" style="stroke-width:0.1px">AMD3100</text>
<text x="311.3" y="494" font-size="8.1" text-anchor="start" fill="#000"  textLength="29.4" lengthAdjust="spacingAndGlyphs" style="stroke-width:0.1px">CCX733</text>
<text x="311.9" y="509.4" font-size="8.1" text-anchor="start" fill="#000"  textLength="29.2" lengthAdjust="spacingAndGlyphs" style="stroke-width:0.1px">CXCL12</text>
<rect x="352.25" y="479.35" width="6.5" height="1.3" fill="#000" stroke="none" stroke-width="0" />
<rect x="373.55" y="479.35" width="6.5" height="1.3" fill="#000" stroke="none" stroke-width="0" />
<rect x="394.0" y="479.25" width="7" height="1.5" fill="#000" stroke="none" stroke-width="0" />
<rect x="396.75" y="476.5" width="1.5" height="7" fill="#000" stroke="none" stroke-width="0" />
<rect x="415.3" y="479.25" width="7" height="1.5" fill="#000" stroke="none" stroke-width="0" />
<rect x="418.05" y="476.5" width="1.5" height="7" fill="#000" stroke="none" stroke-width="0" />
<rect x="436.25" y="479.35" width="6.5" height="1.3" fill="#000" stroke="none" stroke-width="0" />
<rect x="457.55" y="479.35" width="6.5" height="1.3" fill="#000" stroke="none" stroke-width="0" />
<rect x="352.25" y="491.35" width="6.5" height="1.3" fill="#000" stroke="none" stroke-width="0" />
<rect x="373.55" y="491.35" width="6.5" height="1.3" fill="#000" stroke="none" stroke-width="0" />
<rect x="394.25" y="491.35" width="6.5" height="1.3" fill="#000" stroke="none" stroke-width="0" />
<rect x="415.55" y="491.35" width="6.5" height="1.3" fill="#000" stroke="none" stroke-width="0" />
<rect x="436.0" y="491.25" width="7" height="1.5" fill="#000" stroke="none" stroke-width="0" />
<rect x="438.75" y="488.5" width="1.5" height="7" fill="#000" stroke="none" stroke-width="0" />
<rect x="457.3" y="491.25" width="7" height="1.5" fill="#000" stroke="none" stroke-width="0" />
<rect x="460.05" y="488.5" width="1.5" height="7" fill="#000" stroke="none" stroke-width="0" />
<rect x="352.25" y="505.15000000000003" width="6.5" height="1.3" fill="#000" stroke="none" stroke-width="0" />
<rect x="373.3" y="505.05" width="7" height="1.5" fill="#000" stroke="none" stroke-width="0" />
<rect x="376.05" y="502.3" width="1.5" height="7" fill="#000" stroke="none" stroke-width="0" />
<rect x="394.25" y="505.15000000000003" width="6.5" height="1.3" fill="#000" stroke="none" stroke-width="0" />
<rect x="415.3" y="505.05" width="7" height="1.5" fill="#000" stroke="none" stroke-width="0" />
<rect x="418.05" y="502.3" width="1.5" height="7" fill="#000" stroke="none" stroke-width="0" />
<rect x="436.25" y="505.15000000000003" width="6.5" height="1.3" fill="#000" stroke="none" stroke-width="0" />
<rect x="457.3" y="505.05" width="7" height="1.5" fill="#000" stroke="none" stroke-width="0" />
<rect x="460.05" y="502.3" width="1.5" height="7" fill="#000" stroke="none" stroke-width="0" />
<rect x="340" y="514.6" width="137.2" height="13.9" fill="#ececec" stroke="#1a1a1a" stroke-width="1.3" />
<rect x="345.2" y="518.6" width="18.600000000000023" height="8" rx="4.0" fill="#cdcdcd" filter="url(#b3)"/>
<rect x="346.7" y="522.8000000000001" width="15.600000000000023" height="2.6" rx="1.3" fill="#707070" filter="url(#b1)"/>
<rect x="346.7" y="519.7" width="15.600000000000023" height="2.6" rx="1.3" fill="#262626" filter="url(#b1)"/>
<rect x="367.2" y="518.6" width="20.100000000000023" height="8" rx="4.0" fill="#cdcdcd" filter="url(#b3)"/>
<rect x="368.7" y="522.8000000000001" width="17.100000000000023" height="2.6" rx="1.3" fill="#767676" filter="url(#b1)"/>
<rect x="368.7" y="519.7" width="17.100000000000023" height="2.6" rx="1.3" fill="#555" filter="url(#b1)"/>
<rect x="390.7" y="518.6" width="17.80000000000001" height="8" rx="4.0" fill="#cdcdcd" filter="url(#b3)"/>
<rect x="392.2" y="522.8000000000001" width="14.800000000000011" height="2.6" rx="1.3" fill="#7c7c7c" filter="url(#b1)"/>
<rect x="392.2" y="519.7" width="14.800000000000011" height="2.6" rx="1.3" fill="#3a3a3a" filter="url(#b1)"/>
<rect x="412.2" y="518.6" width="17.30000000000001" height="8" rx="4.0" fill="#cdcdcd" filter="url(#b3)"/>
<rect x="413.7" y="522.8000000000001" width="14.300000000000011" height="2.6" rx="1.3" fill="#808080" filter="url(#b1)"/>
<rect x="413.7" y="519.7" width="14.300000000000011" height="2.6" rx="1.3" fill="#666" filter="url(#b1)"/>
<rect x="431.6" y="518.6" width="18.899999999999977" height="8" rx="4.0" fill="#cdcdcd" filter="url(#b3)"/>
<rect x="433.1" y="522.8000000000001" width="15.899999999999977" height="2.6" rx="1.3" fill="#444" filter="url(#b1)"/>
<rect x="433.1" y="519.7" width="15.899999999999977" height="2.6" rx="1.3" fill="#111" filter="url(#b1)"/>
<rect x="454.0" y="518.6" width="17.5" height="8" rx="4.0" fill="#cdcdcd" filter="url(#b3)"/>
<rect x="455.5" y="522.8000000000001" width="14.5" height="2.6" rx="1.3" fill="#a8a8a8" filter="url(#b1)"/>
<rect x="455.5" y="519.7" width="14.5" height="2.6" rx="1.3" fill="#999" filter="url(#b1)"/>
<rect x="340" y="531.6" width="137.2" height="13.6" fill="#f2f2f2" stroke="#1a1a1a" stroke-width="1.3" />
<rect x="346.7" y="537.7" width="17.0" height="3.0" rx="1.5" fill="#111" filter="url(#b2)"/>
<rect x="368" y="537.7" width="19.19999999999999" height="3.0" rx="1.5" fill="#222" filter="url(#b2)"/>
<rect x="392.2" y="537.7" width="15.600000000000023" height="3.0" rx="1.5" fill="#222" filter="url(#b2)"/>
<rect x="413.7" y="537.7" width="14.100000000000023" height="3.0" rx="1.5" fill="#333" filter="url(#b2)"/>
<rect x="433.1" y="537.7" width="15.899999999999977" height="3.0" rx="1.5" fill="#111" filter="url(#b2)"/>
<rect x="455.2" y="537.7" width="15.0" height="3.0" rx="1.5" fill="#333" filter="url(#b2)"/>
<text x="480.8" y="526.9" font-size="10.3" text-anchor="start" fill="#000" >RUNX3</text>
<text x="480.8" y="542.6" font-size="10.3" text-anchor="start" fill="#000" >GAPDH</text>
<text x="280" y="556" font-size="8.1" text-anchor="start" fill="#000"  style="stroke-width:0.1px">[Fold increase]:</text>
<text x="354.3" y="556.2" font-size="7.8" text-anchor="middle" fill="#000" style="stroke-width:0.25px">1.0</text>
<text x="376.4" y="556.2" font-size="7.8" text-anchor="middle" fill="#000" style="stroke-width:0.25px">0.8</text>
<text x="398.4" y="556.2" font-size="7.8" text-anchor="middle" fill="#000" style="stroke-width:0.25px">1.9</text>
<text x="420" y="556.2" font-size="7.8" text-anchor="middle" fill="#000" style="stroke-width:0.25px">0.6</text>
<text x="441.3" y="556.2" font-size="7.8" text-anchor="middle" fill="#000" style="stroke-width:0.25px">1.7</text>
<text x="463.6" y="556.2" font-size="7.8" text-anchor="middle" fill="#000" style="stroke-width:0.25px">0.7</text>
</svg>
</body></html>
